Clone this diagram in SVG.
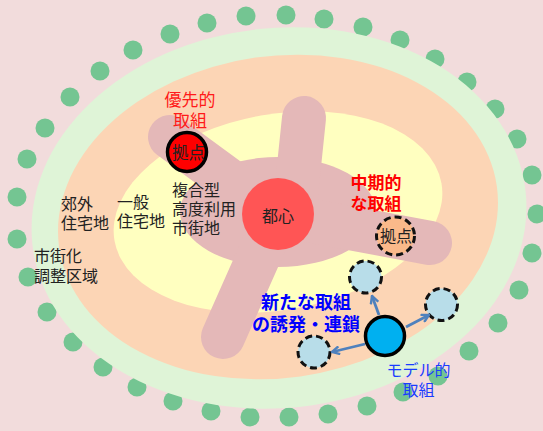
<svg xmlns="http://www.w3.org/2000/svg" width="543" height="431" viewBox="0 0 543 431">
<defs>
<style>
text{font-family:"Liberation Sans","Noto Sans CJK JP",sans-serif;}
.lbl{font-size:16px;fill:#222;}
.red{font-size:17px;fill:#ff1a1a;}
.redb{font-size:17px;fill:#ff0000;font-weight:bold;}
.blueb{font-size:18px;fill:#0000ff;font-weight:bold;}
.blue{font-size:16px;fill:#1a3cff;}
.mid{text-anchor:middle;}
.dot{fill:#74c592;}
.arm{stroke:#e4b8b8;stroke-width:44;stroke-linecap:round;fill:none;}
.new{fill:#b8dde9;stroke:#111;stroke-width:3;stroke-dasharray:7 4;}
.arrow{stroke:#4f81bd;stroke-width:2.8;fill:none;marker-end:url(#chev);}
</style>
<marker id="chev" viewBox="0 0 10 10" refX="8.5" refY="5" markerWidth="10" markerHeight="10" markerUnits="userSpaceOnUse" orient="auto">
<path d="M1,1 L8.5,5 L1,9" fill="none" stroke="#4f81bd" stroke-width="2.4" stroke-linejoin="miter"/>
</marker>
</defs>
<rect width="543" height="431" fill="#f2dcdc"/>
<g id="dots">
<circle class="dot" cx="17" cy="197" r="9.5"/><circle class="dot" cx="27" cy="159" r="9.5"/><circle class="dot" cx="45" cy="128" r="9.5"/><circle class="dot" cx="70" cy="97" r="9.5"/><circle class="dot" cx="100" cy="71" r="9.5"/><circle class="dot" cx="133" cy="50" r="9.5"/><circle class="dot" cx="170" cy="34" r="9.5"/><circle class="dot" cx="207" cy="23" r="9.5"/><circle class="dot" cx="246" cy="16" r="9.5"/><circle class="dot" cx="286" cy="15" r="9.5"/><circle class="dot" cx="324" cy="19" r="9.5"/><circle class="dot" cx="363" cy="27" r="9.5"/><circle class="dot" cx="400" cy="40" r="9.5"/><circle class="dot" cx="435" cy="59" r="9.5"/><circle class="dot" cx="467" cy="82" r="9.5"/><circle class="dot" cx="495" cy="109" r="9.5"/><circle class="dot" cx="517" cy="139" r="9.5"/><circle class="dot" cx="532" cy="175" r="9.5"/><circle class="dot" cx="537" cy="214" r="9.5"/><circle class="dot" cx="532" cy="253" r="9.5"/><circle class="dot" cx="519" cy="290" r="9.5"/><circle class="dot" cx="498" cy="323" r="9.5"/><circle class="dot" cx="469" cy="351" r="9.5"/><circle class="dot" cx="438" cy="376" r="9.5"/><circle class="dot" cx="403" cy="392" r="9.5"/><circle class="dot" cx="367" cy="406" r="9.5"/><circle class="dot" cx="328" cy="414" r="9.5"/><circle class="dot" cx="289" cy="417" r="9.5"/><circle class="dot" cx="250" cy="417" r="9.5"/><circle class="dot" cx="211" cy="411" r="9.5"/><circle class="dot" cx="173" cy="401" r="9.5"/><circle class="dot" cx="137" cy="387" r="9.5"/><circle class="dot" cx="103" cy="367" r="9.5"/><circle class="dot" cx="73" cy="342" r="9.5"/><circle class="dot" cx="47" cy="312" r="9.5"/><circle class="dot" cx="28" cy="277" r="9.5"/><circle class="dot" cx="17" cy="239" r="9.5"/>
</g>
<g id="zone-urbanization-control">
<ellipse cx="279" cy="218" rx="248" ry="190" transform="rotate(-6 279 218)" fill="#dff4d7"/>
</g>
<g id="zone-suburban">
<ellipse cx="278" cy="217" rx="221" ry="161" transform="rotate(-8 278 217)" fill="#fcd5b5"/>
</g>
<g id="zone-general">
<ellipse cx="278" cy="212" rx="166" ry="98" transform="rotate(-10 278 212)" fill="#ffffc0"/>
</g>
<g id="zone-mixed">
<ellipse cx="278" cy="212" rx="98" ry="55" fill="#e4b8b8"/>
<line class="arm" x1="304" y1="118" x2="296" y2="195"/>
<line class="arm" x1="170" y1="137" x2="245" y2="192"/>
<line class="arm" x1="280" y1="215" x2="430" y2="243"/>
<line class="arm" x1="266" y1="240" x2="223" y2="337"/>
</g>
<g id="center">
<circle cx="278" cy="214" r="36" fill="#ff5555"/>
<text class="lbl mid" x="278" y="222">都心</text>
</g>
<g id="hub-priority">
<circle cx="187" cy="152" r="19.5" fill="#ff0000" stroke="#000" stroke-width="3.5"/>
<text class="mid" x="188.5" y="159" style="font-size:16.5px;fill:#222">拠点</text>
</g>
<g id="hub-mid">
<circle cx="395.5" cy="236" r="19" fill="#fab98a" stroke="#111" stroke-width="3" stroke-dasharray="7 4"/>
<text class="lbl mid" x="396" y="242">拠点</text>
</g>
<g id="model">
<circle cx="385" cy="336" r="19.5" fill="#00b0f0" stroke="#000" stroke-width="3.5"/>
</g>
<g id="new-top"><circle class="new" cx="365.5" cy="277" r="16"/></g>
<g id="new-right"><circle class="new" cx="441.5" cy="304.5" r="16"/></g>
<g id="new-left"><circle class="new" cx="314" cy="352" r="16"/></g>
<g id="connectors">
<line class="arrow" x1="379" y1="315" x2="372" y2="296"/>
<line class="arrow" x1="406" y1="327" x2="429" y2="315"/>
<line class="arrow" x1="365" y1="344" x2="332" y2="352"/>
</g>
<g id="labels">
<text class="red mid" x="190" y="106">優先的<tspan x="190" dy="21">取組</tspan></text>
<text class="redb mid" x="376" y="189">中期的<tspan x="376" dy="21">な取組</tspan></text>
<text class="lbl" x="172" y="196">複合型<tspan x="172" dy="19">高度利用</tspan><tspan x="172" dy="19">市街地</tspan></text>
<text class="lbl" x="117" y="208">一般<tspan x="117" dy="19">住宅地</tspan></text>
<text class="lbl" x="61" y="210">郊外<tspan x="61" dy="19">住宅地</tspan></text>
<text class="lbl" x="34" y="262">市街化<tspan x="34" dy="20">調整区域</tspan></text>
<text class="blueb mid" x="306" y="309">新たな取組<tspan x="306" dy="22">の誘発・連鎖</tspan></text>
<text class="blue mid" x="418.5" y="376">モデル的<tspan x="418.5" dy="20">取組</tspan></text>
</g>
</svg>
